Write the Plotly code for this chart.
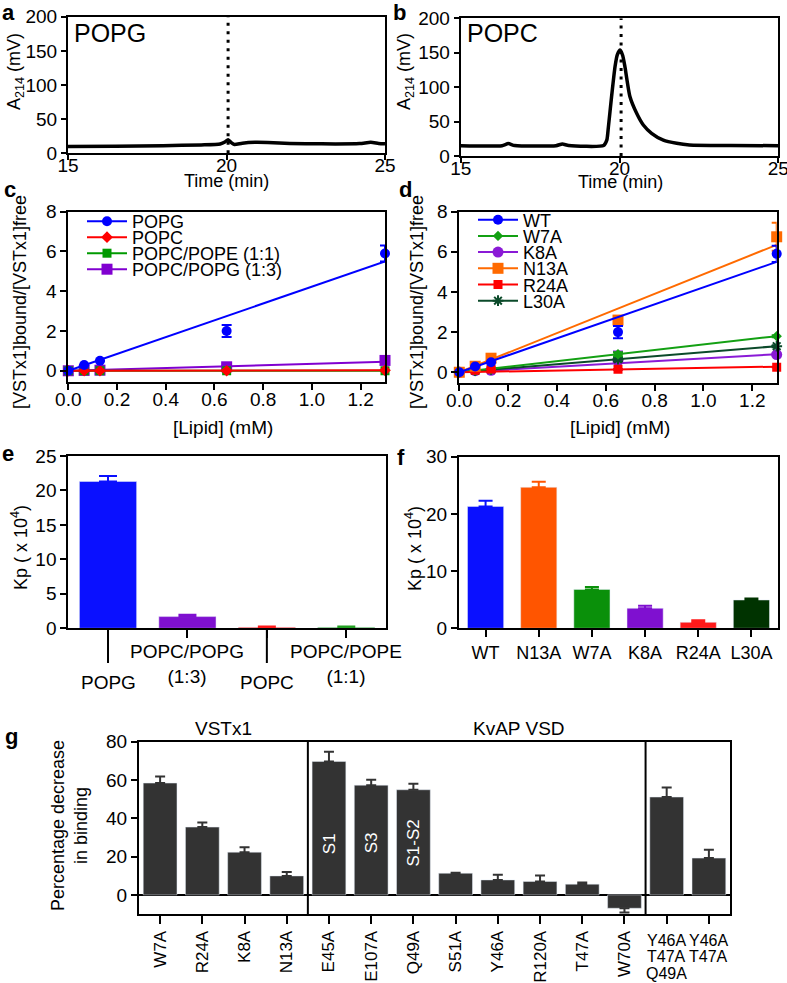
import plotly.graph_objects as go

W, H = 787, 983
FONT = "Liberation Sans, Arial, Helvetica, sans-serif"

# ---------------- data ----------------
# (a) POPG chromatogram (A214, mV vs time, min)
popg_time = [15.0, 16.5, 18.0, 19.2, 19.8, 19.95, 20.05, 20.15, 20.25, 20.5, 20.9, 21.3, 22.0, 23.0, 24.2, 24.55, 24.8, 25.0]
popg_a214 = [10.0, 10.5, 11.2, 12.3, 13.7, 16.5, 20.0, 15.5, 13.0, 14.8, 16.0, 15.8, 14.5, 13.8, 14.2, 16.0, 14.5, 14.0]
# (b) POPC chromatogram
popc_time = [15.0, 16.3, 16.5, 16.7, 18.0, 18.2, 18.4, 19.5, 19.6, 19.65, 19.75, 19.86, 19.93, 20.02, 20.1, 20.17, 20.33, 20.54, 20.75, 21.01, 21.38, 21.8, 22.2, 23.5, 25.0]
popc_a214 = [15.0, 15.0, 18.0, 15.2, 15.0, 17.4, 15.2, 15.3, 23.0, 42.0, 86.0, 130.0, 147.0, 154.0, 146.0, 130.0, 86.0, 62.0, 45.0, 33.0, 23.0, 18.4, 16.0, 15.2, 15.0]
elution_time = 20.05

# (c) bound/free ratio vs lipid concentration, lipid compositions
lipid_mM = [0, 0.065, 0.13, 0.65, 1.3]
fit_lipid_mM = [0, 1.3]
c_names = ["POPG", "POPC", "POPC/POPE (1:1)", "POPC/POPG (1:3)"]
c_popg = [0, 0.29, 0.5, 2.0, 5.9]
c_popg_err = [0, 0, 0, 0.3, 0.4]
c_popg_fit = [0, 5.5]
c_popc = [0, 0, 0, 0, 0.02]
c_popc_err = [0, 0, 0, 0, 0]
c_popc_fit = [0, 0.02]
c_pope = [0, 0, 0, 0, 0]
c_pope_err = [0, 0, 0, 0, 0]
c_pope_fit = [0, 0]
c_popg13 = [0, 0.02, 0.03, 0.2, 0.52]
c_popg13_err = [0, 0, 0, 0.05, 0.05]
c_popg13_fit = [0, 0.45]

# (d) bound/free ratio vs lipid concentration, VSTx1 mutants
d_names = ["WT", "W7A", "K8A", "N13A", "R24A", "L30A"]
d_wt = [0, 0.29, 0.5, 2.0, 5.9]
d_wt_err = [0, 0, 0, 0.3, 0.4]
d_wt_fit = [0, 5.5]
d_w7a = [0, 0.08, 0.15, 0.9, 1.8]
d_w7a_err = [0, 0, 0, 0.1, 0.05]
d_w7a_fit = [0, 1.8]
d_k8a = [0, 0.08, 0.1, 0.58, 0.88]
d_k8a_err = [0, 0, 0, 0.45, 0.05]
d_k8a_fit = [0, 0.9]
d_n13a = [0, 0.3, 0.7, 2.6, 6.75]
d_n13a_err = [0, 0, 0, 0.15, 0.7]
d_n13a_fit = [0, 6.35]
d_r24a = [0, 0.1, 0.16, 0.15, 0.25]
d_r24a_err = [0, 0, 0, 0, 0]
d_r24a_fit = [0, 0.28]
d_l30a = [0, 0.08, 0.15, 0.65, 1.3]
d_l30a_err = [0, 0, 0, 0.1, 0.05]
d_l30a_fit = [0, 1.3]

# (e) Kp (x 10^4) per lipid
e_lipids = ["POPG", "POPC/POPG<br>(1:3)", "POPC", "POPC/POPE<br>(1:1)"]
e_kp = [21.3, 1.7, 0.15, 0.15]
e_kp_err = [0.8, 0.25, 0.1, 0.1]
e_label_lowered = [True, False, True, False]

# (f) Kp (x 10^4) per mutant
f_mutants = ["WT", "N13A", "W7A", "K8A", "R24A", "L30A"]
f_kp = [21.3, 24.65, 6.8, 3.5, 1.05, 4.95]
f_kp_err = [1.0, 0.95, 0.4, 0.45, 0.35, 0.25]

# (g) percentage decrease in binding
g_vstx1 = ["W7A", "R24A", "K8A", "N13A"]
g_vstx1_val = [58.4, 35.4, 22.3, 9.9]
g_vstx1_err = [3.4, 2.4, 2.6, 2.0]
g_kvap = ["E45A", "E107A", "Q49A", "S51A", "Y46A", "R120A", "T47A", "W70A"]
g_kvap_val = [69.7, 57.3, 54.9, 11.3, 7.8, 7.0, 5.6, -7.0]
g_kvap_err = [5.1, 2.8, 3.1, 0.3, 2.7, 3.1, 0.8, 2.2]
g_combo = ["Y46A/T47A/Q49A", "Y46A/T47A"]
g_combo_val = [51.1, 19.2]
g_combo_err = [5.0, 4.3]
g_segments = {"E45A": "S1", "E107A": "S3", "Q49A": "S1-S2"}
g_segment_label_y = 27

# ---------------- styles ----------------
c_colors = ["#0000ff", "#ff0000", "#009a00", "#8000d0"]
c_symbols = ["circle", "diamond", "square", "square"]
c_sizes = [10, 9, 9, 11]
d_colors = ["#0000ff", "#13a013", "#8a1ad6", "#ff6a00", "#ff0000", "#0b4a2a"]
d_symbols = ["circle", "diamond", "circle", "square", "square", "asterisk-open"]
d_sizes = [10, 8, 11, 11, 9, 9]
e_colors = ["#0a10ff", "#7f10d0", "#ff1a1a", "#22a022"]
f_colors = ["#0a10ff", "#ff5500", "#0a900a", "#7f10d0", "#ff1a1a", "#003300"]
g_color = "#333333"

fig = go.Figure()

boxes = {
    1: ((68, 385), (16.7, 153.3)),
    2: ((460.7, 778.3), (18.3, 156)),
    3: ((68.3, 385), (211.7, 381.7)),
    4: ((459.3, 776.7), (211.7, 383.3)),
    5: ((68.3, 386), (456, 628.3)),
    6: ((459, 778), (456.7, 628.3)),
    7: ((139, 730), (741.7, 914)),
}
tickfont = dict(family=FONT, size=19, color="black")


def base_axis():
    return dict(showline=True, linecolor="black", linewidth=2, mirror=True,
                ticks="outside", ticklen=6, tickwidth=2, tickcolor="black",
                showgrid=False, zeroline=False, tickfont=tickfont, fixedrange=True,
                automargin=False, ticklabeloverflow="allow")


layout = dict(width=W, height=H, margin=dict(l=0, r=0, t=0, b=0, pad=0, autoexpand=False),
              paper_bgcolor="white", plot_bgcolor="white", barmode="overlay",
              font=dict(family=FONT, color="black"), showlegend=True)

for i, (xb, yb) in boxes.items():
    key = "" if i == 1 else str(i)
    xa = base_axis()
    xa.update(domain=[xb[0] / W, xb[1] / W], anchor=f"y{i}")
    ya = base_axis()
    ya.update(domain=[1 - yb[1] / H, 1 - yb[0] / H], anchor=f"x{i}")
    layout[f"xaxis{key}"] = xa
    layout[f"yaxis{key}"] = ya

# ranges / ticks
for k in ["", "2"]:
    layout[f"xaxis{k}"].update(range=[15, 25], tickvals=[15, 20, 25], ticklen=5, ticklabelstandoff=-11)
    layout[f"yaxis{k}"].update(range=[0, 200], tickvals=[0, 50, 100, 150, 200], ticklen=5)
for k in ["3", "4"]:
    layout[f"xaxis{k}"].update(range=[0, 1.3], tickvals=[0, 0.2, 0.4, 0.6, 0.8, 1.0, 1.2], tickformat=".1f",
                               ticklabelstandoff=-7)
    layout[f"yaxis{k}"].update(range=[-0.55, 8], tickvals=[0, 2, 4, 6, 8])
layout["xaxis5"].update(range=[-0.5, 3.5], showticklabels=False, ticklen=8)
layout["yaxis5"].update(range=[0, 25], tickvals=[0, 5, 10, 15, 20, 25])
layout["xaxis6"].update(range=[-0.5, 5.5], ticklen=7, tickfont=dict(family=FONT, size=18, color="black"))
layout["yaxis6"].update(range=[0, 30], tickvals=[0, 10, 20, 30])
g_all = g_vstx1 + g_kvap + g_combo
g_ticktext = g_vstx1 + g_kvap + ["" for _ in g_combo]
layout["xaxis7"].update(range=[-0.5, len(g_all) - 0.5], tickmode="array", tickvals=g_all,
                        ticktext=g_ticktext, tickangle=-90, ticklen=8,
                        tickfont=dict(family=FONT, size=17, color="black"))
layout["yaxis7"].update(range=[-10, 80], tickvals=[0, 20, 40, 60, 80],
                        zeroline=True, zerolinecolor="black", zerolinewidth=2)

# ---------------- traces ----------------
# a, b
fig.add_trace(go.Scatter(x=popg_time, y=popg_a214, mode="lines", line=dict(color="black", width=3.5, shape="spline", smoothing=0.6),
                         xaxis="x", yaxis="y", showlegend=False))
fig.add_trace(go.Scatter(x=popc_time, y=popc_a214, mode="lines", line=dict(color="black", width=3.5, shape="spline", smoothing=0.6),
                         xaxis="x2", yaxis="y2", showlegend=False))
for ax in ["", "2"]:
    fig.add_trace(go.Scatter(x=[elution_time, elution_time], y=[0, 200], mode="lines",
                             line=dict(color="black", width=3, dash="3px,5.5px"),
                             xaxis="x" + ax, yaxis="y" + ax, showlegend=False))

legend_count = [0]


def new_legend(xpx, ypx):
    legend_count[0] += 1
    n = legend_count[0]
    name = "legend" if n == 1 else f"legend{n}"
    layout[name] = dict(x=xpx / W, y=1 - ypx / H, xanchor="left", yanchor="middle",
                        bgcolor="rgba(0,0,0,0)", borderwidth=0, tracegroupgap=0, itemwidth=40,
                        font=dict(family=FONT, size=18, color="black"))
    return name


def scatter_panel(ax, names, ys, errs, fits, colors, symbols, sizes, order, leg_x, leg_y0, leg_dy):
    for j in order:
        col = colors[j]
        mk = dict(color=col, size=sizes[j], symbol=symbols[j])
        if symbols[j].startswith("asterisk"):
            mk["line"] = dict(color=col, width=2)
        fig.add_trace(go.Scatter(x=fit_lipid_mM, y=fits[j], mode="lines", line=dict(color=col, width=2),
                                 xaxis="x" + ax, yaxis="y" + ax, showlegend=False, cliponaxis=False))
        fig.add_trace(go.Scatter(x=lipid_mM, y=ys[j], mode="markers", marker=mk,
                                 error_y=dict(type="data", array=errs[j], color=col, thickness=2, width=5),
                                 xaxis="x" + ax, yaxis="y" + ax, showlegend=False, cliponaxis=False))
    for j, nm in enumerate(names):
        col = colors[j]
        mk = dict(color=col, size=sizes[j], symbol=symbols[j])
        if symbols[j].startswith("asterisk"):
            mk["line"] = dict(color=col, width=2)
        lg = new_legend(leg_x, leg_y0 + j * leg_dy)
        fig.add_trace(go.Scatter(x=[None], y=[None], mode="lines+markers", name=nm, marker=mk,
                                 line=dict(color=col, width=2), legend=lg, showlegend=True,
                                 xaxis="x" + ax, yaxis="y" + ax))


scatter_panel("3", c_names, [c_popg, c_popc, c_pope, c_popg13],
              [c_popg_err, c_popc_err, c_pope_err, c_popg13_err],
              [c_popg_fit, c_popc_fit, c_pope_fit, c_popg13_fit],
              c_colors, c_symbols, c_sizes, [3, 2, 1, 0], 82, 221.5, 16)
scatter_panel("4", d_names, [d_wt, d_w7a, d_k8a, d_n13a, d_r24a, d_l30a],
              [d_wt_err, d_w7a_err, d_k8a_err, d_n13a_err, d_r24a_err, d_l30a_err],
              [d_wt_fit, d_w7a_fit, d_k8a_fit, d_n13a_fit, d_r24a_fit, d_l30a_fit],
              d_colors, d_symbols, d_sizes, [2, 5, 1, 4, 3, 0], 473, 220, 16.2)

# e bars
for j, lab in enumerate(e_lipids):
    fig.add_trace(go.Bar(x=[lab], y=[e_kp[j]], width=0.72, marker=dict(color=e_colors[j]),
                         error_y=dict(type="data", symmetric=False, array=[e_kp_err[j]], arrayminus=[0],
                                      color=e_colors[j], thickness=2, width=9),
                         xaxis="x5", yaxis="y5", showlegend=False))
# f bars
for j, lab in enumerate(f_mutants):
    fig.add_trace(go.Bar(x=[lab], y=[f_kp[j]], width=0.68, marker=dict(color=f_colors[j]),
                         error_y=dict(type="data", symmetric=False, array=[f_kp_err[j]], arrayminus=[0],
                                      color=f_colors[j], thickness=2, width=7),
                         xaxis="x6", yaxis="y6", showlegend=False))
# g bars
g_vals = g_vstx1_val + g_kvap_val + g_combo_val
g_errs = g_vstx1_err + g_kvap_err + g_combo_err
fig.add_trace(go.Bar(x=g_all, y=g_vals, width=0.8, marker=dict(color=g_color),
                     error_y=dict(type="data", symmetric=False,
                                  array=[e if v >= 0 else 0 for v, e in zip(g_vals, g_errs)],
                                  arrayminus=[e if v < 0 else 0 for v, e in zip(g_vals, g_errs)],
                                  color=g_color, thickness=2, width=5),
                     xaxis="x7", yaxis="y7", showlegend=False))

# ---------------- annotations & shapes ----------------
annotations = []
shapes = []


def ann(text, xpx, ypx, size=18, angle=0, bold=False, xanchor="center", color="black", yanchor="middle"):
    t = f"<b>{text}</b>" if bold else text
    annotations.append(dict(text=t, x=xpx / W, y=1 - ypx / H, xref="paper", yref="paper", showarrow=False,
                            font=dict(family=FONT, size=size, color=color), textangle=angle,
                            xanchor=xanchor, yanchor=yanchor))


# panel letters
for letter, xp, yp in [("a", 8, 12), ("b", 399, 12), ("c", 10, 190), ("d", 405, 190),
                       ("e", 8, 453), ("f", 401, 457), ("g", 11, 736)]:
    ann(letter, xp, yp, size=22, bold=True)

# a, b
ann("POPG", 72, 33, size=25, xanchor="left")
ann("POPC", 465, 33, size=25, xanchor="left")
ann("A<sub>214</sub> (mV)", 16, 72, angle=-90)
ann("A<sub>214</sub> (mV)", 406, 72, angle=-90)
ann("Time (min)", 226, 181)
ann("Time (min)", 620, 182)
# c, d
ann("[VSTx1]bound/[VSTx1]free", 20, 302, angle=-90)
ann("[VSTx1]bound/[VSTx1]free", 417, 302, angle=-90)
ann("[Lipid] (mM)", 223, 428, size=19)
ann("[Lipid] (mM)", 620, 428, size=19)
# e, f
ann("Kp ( x 10<sup>4</sup>)", 19, 548, angle=-90)
ann("Kp ( x 10<sup>4</sup>)", 413, 549, angle=-90)
for j, lab in enumerate(e_lipids):
    annotations.append(dict(text=lab, x=j, xref="x5", y=1 - (682 if e_label_lowered[j] else 664) / H,
                            yref="paper", showarrow=False, xanchor="center", yanchor="middle",
                            font=dict(family=FONT, size=19, color="black")))
    if e_label_lowered[j]:
        shapes.append(dict(type="line", xref="x5", x0=j, x1=j, yref="paper",
                           y0=1 - 628.3 / H, y1=1 - 663 / H, line=dict(color="black", width=2)))
# g
ann("Percentage decrease<br>in binding", 69, 826, angle=-90)
annotations.append(dict(text="VSTx1", x=(len(g_vstx1) - 1) / 2, xref="x7", y=1 - 728 / H, yref="paper",
                        yanchor="middle", showarrow=False, font=dict(family=FONT, size=19, color="black")))
annotations.append(dict(text="KvAP VSD", x=len(g_vstx1) + (len(g_kvap) + len(g_combo) - 1) / 2, xref="x7",
                        y=1 - 728 / H, yref="paper", yanchor="middle", showarrow=False,
                        font=dict(family=FONT, size=19, color="black")))
for mut, seg in g_segments.items():
    annotations.append(dict(text=seg, x=mut, xref="x7", y=g_segment_label_y, yref="y7", showarrow=False,
                            textangle=-90, font=dict(family=FONT, size=17, color="white")))
for lab in g_combo:
    for k, part in enumerate(lab.split("/")):
        annotations.append(dict(text=part, x=lab, xref="x7", y=1 - (940 + 16.7 * k) / H, yref="paper",
                                showarrow=False, xanchor="center", yanchor="middle",
                                font=dict(family=FONT, size=16, color="black")))
for div in [len(g_vstx1) - 0.5, len(g_vstx1) + len(g_kvap) - 0.5]:
    shapes.append(dict(type="line", xref="x7", x0=div, x1=div, yref="y7 domain", y0=0, y1=1,
                       line=dict(color="black", width=2)))

layout["annotations"] = annotations
layout["shapes"] = shapes
fig.update_layout(**layout)

fig.write_html("out.html", config={"displayModeBar": False},
               post_script="document.body.style.margin='0px';document.body.style.overflow='hidden';")
